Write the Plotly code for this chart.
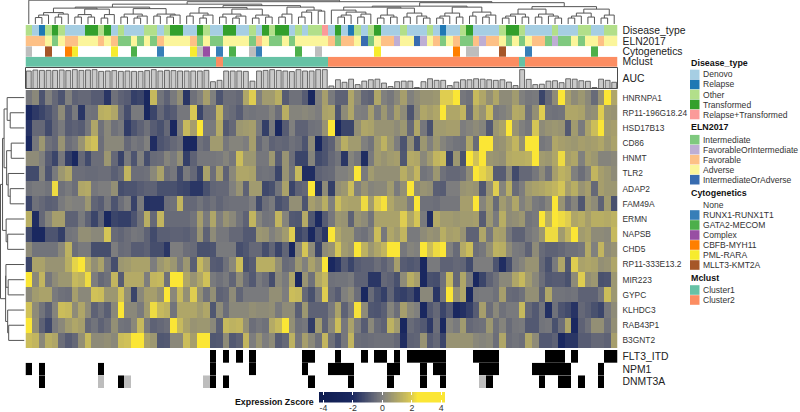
import plotly.graph_objects as go

W, H = 800, 412
genes = ["HNRNPA1", "RP11-196G18.24", "HSD17B13", "CD86", "HNMT", "TLR2", "ADAP2", "FAM49A", "ERMN",
         "NAPSB", "CHD5", "RP11-333E13.2", "MIR223", "GYPC", "KLHDC3", "RAB43P1", "B3GNT2"]

hnrnpa1 = [-.3,.2,-1.5,0,-.8,-1.5,0,-1,-.8,-.8,-1.2,-1.2,-2.5,-.5,-1,-1.2,-2.2,-2,-3.2,1.5,-.4,-1,-.2,.4,-2.5,-.5,0,.8,0,-1.5,-.6,-.6,-.8,1,2,0,.7,.7,1.2,-1.2,-.5,-.5,-1.2,-3.2,0,
           .8,-.2,-1,-1,1,.2,-.8,-1,1,0,-.3,.2,.8,0,.3,.5,.5,.6,2,2,2.6,-.3,-.5,1.5,1,.4,1,.3,.3,.7,0,-.3,-.2,-2,-.8,.3,2.5,.8,.3,.6,.2,-.7,.5,3.2,1]
rp11_196 = [-3,-2.4,-2,-1.5,-.8,.3,-1.2,-.2,-2.5,-.4,-.5,1.2,1.3,1,-.5,-1.7,-.2,-.2,-3.2,-2,-.8,-1.5,-1.2,-.3,-.3,1.9,-2,-.6,-.5,1.4,-.5,-.7,-1.2,-.3,-.4,-.3,-.3,.1,-.6,1.2,.1,.1,.2,.1,-.1,
            .9,1,-1.5,.3,1,0,-.1,.8,-.2,.6,-.1,.8,.3,-1.5,.2,1,.8,1,3,1,1,1.4,-.8,1,.5,1.6,-.2,0,.2,1.1,1,-.5,.4,2,-.4,-.5,-.4,1,1,.9,.3,.4,2,.6,.5]
hsd17b13 = [-2.6,-.8,-.8,-1.8,-.8,-.2,-1.2,-1,-1.2,-.3,1,-.5,.2,-.5,-.2,-2.3,-1.5,-1,-.5,-1.2,-1.6,-.8,-3,-.2,1.5,.8,3,-.2,-.2,1.1,-1.3,-.8,.6,.7,.8,-.2,-2.2,-.2,-3,-1.2,0,-1,-1,-.5,-.4,
            .5,2.8,-3.2,-2,-2,.4,1,.9,.5,.5,.5,.3,.6,-.8,1,-.3,-1.6,.7,.7,.8,.8,-.1,.1,.3,.1,-1.3,.6,.9,2.6,.5,0,-.3,1.8,.3,.5,.6,.5,-1.3,.7,-.2,.9,1.6,2.9,.7,.8]
cd86 = [-3,-.3,.6,-.5,-.8,.5,-.6,-.3,.5,1.4,1.7,-.6,.2,.2,.2,-.8,-.3,-.5,0,-2.8,-1.5,-1.2,-.8,-.5,-3,-3,-.5,-.8,.7,.7,-.3,.1,.1,-.1,.8,-.8,-.2,-1,-.8,-.9,-.5,-.7,-1.5,.3,-3.2,
        -1.5,-1,.3,1.2,.7,.7,0,-.4,.7,1.3,.6,-.1,-1.5,.4,-1.6,.6,0,.6,.1,-.2,-.4,-.5,1,-.7,2.8,2.8,.4,.5,.9,1.4,.4,2.6,2.8,-.3,-.1,1,.8,.7,.6,.8,.7,.8,1,.6,.9]
hnmt = [.3,.3,0,-1.2,-2,-.3,-2.2,-3,-.8,-1.8,-.6,-.6,.6,-.8,-2.1,-.2,-1.5,0,-1.7,-.7,-.6,.1,-.2,.4,-2.2,-1,-.3,-.3,-.3,-.2,.1,-.3,1.6,.6,.6,-.3,-.3,.6,-1.2,.5,-.6,-2,-2,.1,-1.8,
        -1.5,-.8,-.4,-2.5,.1,-.3,-2.8,-.2,.7,.5,.7,.8,-1.4,1.1,1,.2,.7,1.4,1.6,-2,.6,-1.6,2.6,1.7,2.5,.6,.5,.4,1.1,1.2,1.2,1.3,2.7,.7,.6,1,2.2,.8,1,0,.8,.6,.1,.1,.2]
tlr2 = [-1.8,-1.8,.1,-1.5,-.2,.6,1,-.6,-.6,-.7,-.7,-.6,-.6,-1.1,-.7,1.4,-.6,-.6,-.5,.2,.9,-.6,-.3,-1.8,-.2,-.8,-2,.9,-.6,.8,-1,.2,1,1,.9,-.5,-.4,-.5,-2,.5,-.5,1.5,-2.8,-2.8,-1,
        -.8,-.7,0,0,.2,2.8,-.2,.7,.4,.4,.4,.4,1.2,.7,1.4,-.4,-.2,.6,-.5,-.8,-.8,-.6,.3,2.8,2.1,1.7,-1.2,-1.2,.2,-1.8,-.8,-.8,-.3,.3,-.5,.8,1.3,1.1,0,-.6,0,1.4,.8,.6,.3]
adap2 = [-.4,-.2,-.2,-.4,2.2,-.5,-.2,-.6,1,1.1,-.3,-.1,-.1,.4,-1.7,-1.5,-1.5,-1.2,-1,-1,-1.6,-1.6,-1.6,-1.9,-2,-2.5,-2.5,-1.6,-.9,-.8,-.8,0,.5,-1,.7,.7,-1.9,-1.6,-.4,.9,-2,-1,-.8,3,-2.5,
         .3,-2.2,.4,.6,1.6,0,.5,.1,.2,.2,.7,-.2,.4,2.8,.3,.5,.4,-1.1,-1.2,-.1,-.1,.5,.6,.5,-1.4,.4,2,.1,1.2,-.7,-.1,.7,.9,1,1.2,1.4,1.8,.8,1.2,.5,.8,-.8,.8,.6,.6]
fam49a = [-2,-.5,-.8,-1.1,-1,-.2,.1,0,0,.6,-.9,-1.2,-.3,-1.5,-.6,-.1,-2.1,-.2,-2.7,-2.6,-2.6,-.6,-.5,1.4,-.8,-.8,-.4,-.8,-.5,-.9,-.6,-.5,-.5,-.5,-.1,-1.8,-.6,-.2,-1.6,-1.2,.4,.4,-1.5,.8,.5,
          1.2,0,1.6,1,.9,.9,2.2,.7,2,2.3,1,.6,.6,-.1,2.8,-.5,-.5,-.6,-.3,-.3,-.3,.8,.8,2.4,.1,.7,-.7,.7,.3,1,0,.4,-.2,-.4,.1,2.4,.5,-.6,.1,-1.4,.6,.3,-1,.7,-1.6]
ermn = [1.2,-2.8,-.8,.1,.8,.8,-1,-1,-.2,-1,-2,-.9,-3,-2,-2.2,-2.2,-1.5,-.5,1.2,-.8,1.4,-.7,-.7,-.7,-.7,-.4,.8,-.2,1,-.1,.5,.2,-.4,-1,1.4,.1,-.4,-.3,1.4,.1,-1.3,-1.4,1.1,-1.4,-2.9,
        -1.2,-.3,.6,.5,-1,.5,.3,-.4,.9,.9,.9,.9,2,1,1.8,-.2,-2.8,1.1,.7,.7,.6,.7,.7,.8,-1.2,.6,-.2,1.2,.3,.4,.6,-.4,-.2,2.4,1.2,2.7,2.2,2,1,1.2,.8,1.2,1.2,1.1,1.3]
napsb = [-1.8,-3,-3,-1.5,-1.5,-2.2,-.4,-.3,.4,.4,.2,.2,1.8,-.7,-.9,-.6,-.3,-.4,-1,-1.8,-1.1,-1.1,-1,-1,-1.1,-.8,.5,-1,.3,-.3,-.3,-.8,-.8,-1.3,-1.3,.6,.5,0,.3,.7,2,-2,-1.5,-3,-1.5,
         -2.5,2.8,1,.6,.6,-.3,-.5,0,1.6,-.3,1,.7,1.4,-.2,-.2,.3,.5,.4,1.2,.8,.9,.5,-1,-1,1,-.3,.9,.8,-.3,-1,-1,-.3,0,.6,2.2,2.2,.7,1.4,2.6,.7,.9,.3,.3,.2,1.5]
chd5 = [.3,-.4,-.4,-.4,-.4,.2,1.3,-.6,-.2,-.2,-1.7,-1.7,-1.7,-.1,-.7,-.6,-1.2,-1.2,-1,-1.7,-1.7,-2.5,-.1,-.1,-.6,-.7,-1.6,-1.6,-1.5,-.2,-.2,-.2,-1.7,-1.4,-.8,-.8,-1.7,-.9,-2,-.9,-3,.2,1.8,.3,-2,
        .3,.5,1.8,.7,.5,2.9,1.3,.6,1,1.4,2.9,2.9,-.3,.1,0,2.5,1.6,2.2,2.9,0,-.7,1.1,1.6,-.6,-.3,.4,1.3,1.2,.3,-.2,-.3,-1,.3,-.7,-1,-1,-.8,-.5,-.5,-.3,1.1,0,1.4,.3,.5]
rp11_333 = [-2,.9,.9,.5,.5,.5,1.2,2.1,2.4,1.1,.4,.9,-.3,-1.7,.6,.7,.9,.9,.9,-.1,.6,.9,.6,-.2,.6,-1.1,1.5,.8,-1.2,-1.3,-.5,.2,1.6,-1.6,-1.2,1.2,1.2,1.2,.4,-.7,-.5,.6,0,.9,.4,
            3,-3,-2.5,-1.2,-2,-1.2,-1,-1,-.6,-1,-.5,.8,-1.2,-1.4,-1.2,-3,-.2,-.2,-1,-1,-.8,-.9,-1.8,-.1,-.1,-.1,-1.5,-2.8,-1.7,-.2,.1,.5,.5,-.8,-1.6,-.2,1,-1.4,2,.9,1,.9,.4,.5,1]
mir223 = [2.4,.2,1.4,-.3,.3,.6,.6,1.5,1.3,2.2,-.1,-.8,-.5,1.4,-1.2,1.1,1.1,1.1,-.1,1.4,1.5,-.5,2.8,2.9,1,.5,1,1.7,-.2,-.5,-.2,-.9,.3,-.7,-1.3,-.2,-.6,-1.7,.2,-.2,1,-3,.5,-.5,1,
          1.5,-.5,-.4,-.4,-.2,-1,-1,-2.5,-2.5,-.8,-1,-1.6,.3,1.2,.8,-3,-1.6,-1.7,-.5,1.5,-.8,1,-.2,-3,-2,-1,-.5,.2,.2,1,1.5,.7,.2,-.6,-1.3,-1.2,-1.2,-1.6,.3,2,.4,.6,-1.6,-1.5,.6]
gypc = [.2,.7,.9,.9,-.2,-.5,-.6,.8,.2,.2,1.7,1.6,.6,.6,1.7,.4,-2,.2,.8,.8,.4,2.8,.2,1.5,.4,2,.4,-.5,.4,-1,-.8,.3,-.9,-.2,-.2,-.2,-.2,.4,.4,-.1,1.6,1.5,-.8,-1.6,-.3,
        2,-.7,-1.2,0,.3,-.6,-3,-.7,-1.6,-2.2,-.9,-2,-2.2,-1.8,-2.8,.2,.2,-2.5,-.4,2.8,.4,1,-3,-.3,-.2,-.2,-.5,.8,-.7,-.8,-.5,.4,.4,-1,1,-.4,-.4,-.5,-.4,-1,-1,-1,-.3,1.6,.6]
klhdc3 = [1.7,.3,-.4,-1.1,.1,1.6,1.5,.3,1,.3,-1,-.5,-1.1,.2,2.6,.2,.2,-.2,.7,2.2,1.5,1.3,-.4,1,1,1,.7,1,-1.4,.3,-.6,.2,.2,.2,.4,.3,.3,.4,-.2,.3,.3,-1.1,.6,-1,-1,
          -1,-.2,.9,-1,-.1,2.3,.3,-1.4,-1.5,-1.1,.1,-.6,.8,.2,0,-3,-1.3,-.8,-2,-1.2,-3,-2.7,-2.2,-1.2,.8,-.6,.2,-.5,-.2,-.2,1.5,-.8,-1.3,-.4,-2.7,-.5,-1.5,-1.8,-2.6,-.8,-1.1,-1.6,-2,-.3,.3]
rab43p1 = [2.9,.4,-1,-1.9,-.2,.2,.7,1,.8,-.8,-.4,-1,-.6,.4,-.4,-.5,.2,1.5,-.2,-1,-.8,-.6,2.6,1.5,.9,.5,.6,.6,.2,-1.1,1.5,1.3,1.4,.4,-.6,-.3,-.5,1.1,1.5,2.4,.4,-.5,-.3,-2.3,.7,
           -1,.2,1.6,-.3,.9,-.1,-1.2,.2,-.7,-1,1.3,.7,-3.2,-.7,-1,-1.3,-2.4,-.6,-3,.1,-.2,.7,-.8,-.6,-.5,.6,-.5,.1,-.7,-.3,-.2,-1.3,-1.3,-.4,-.3,-1.6,-.6,1,-3,-1,-.5,.4,.4,-.5,.4]
b3gnt2 = [1.6,1.4,.2,1.2,1,-.6,-1.2,-.8,.4,1.5,.3,.3,.4,.2,1.6,1.7,2.9,2.8,.9,.6,-1.4,-1.3,.2,.2,1.6,.8,2.4,2.9,-1.4,-1.3,.3,-1.3,-1,1.4,-.1,.5,-.1,.3,-1.2,-.8,1.3,-.3,.8,.2,-.5,
          1.4,-.5,-1.4,-.3,1.4,-.6,-.7,-.6,-.5,-.5,-.5,-.8,-2.8,-1,-.9,.5,-1.2,-.8,-2,.5,.5,.5,.5,.2,.1,.2,-.6,1,-.6,-.4,-.6,1,.3,-1.3,-1.3,-1,-3,-2.5,-2.5,-1.2,-1.2,-.8,-.8,-1,.8]
rows_read = [hnrnpa1, rp11_196, hsd17b13, cd86, hnmt, tlr2, adap2, fam49a, ermn, napsb, chd5, rp11_333, mir223, gypc, klhdc3, rab43p1, b3gnt2]
# negative side was read by shade on a -3 scale, the colorbar says that navy is about -2
zscore = [[val * .68 if val < 0 else val for val in row] for row in rows_read]

# sample annotations, one letter per column
disease = "ODROTODDDTTOTDODDDOODOTTDDTODDTTDDODTOTTDODOOPDTDRODOTDDDODDDODRDDOTDDDDOTTODDDDODDDOODDOO"
eln = "FFFAIAFFAAAFAFIIAIAIFAAAAFIAIIAAAAIFAIIAIAAAAAFIFFAVIAFFBAAVBAFIAFIIFBFFAIAIAFFIBIIAIAAFAA"
cyto = "XNNMNNOYNNNNNYNNGNNNUNNNNYXCNUNGNNXUNNNNNGNNXNNNNNNNNYNNNNNNNNNNNONXXNNNMNNNUNNNNNNNNNGNNN"
mclust = [1] * 29 + [2] + [1] * 16 + [2] * 29 + [1] + [2] * 14
auc = [.9,.95,.93,.93,.93,.95,.92,.97,.93,.95,.97,.88,.9,.92,.88,.9,.88,.88,.92,.97,.9,.93,.92,.9,.9,.9,.9,.93,.35,.42,.9,.9,.9,.88,.38,.9,.93,.97,.93,.9,.87,.97,.9,.9,.97,
       .97,.13,.45,.32,.48,.2,.38,.45,.48,.28,.1,.35,.38,.38,.05,.35,.5,.42,.42,.15,.33,.45,.45,.5,.48,.45,.42,.45,.33,.15,.97,.47,.2,.22,.38,.4,.3,.5,.48,.4,.37,.05,.48,.42,.32]

# mutation calls: columns with black / with grey (no call)
mut_names = ["FLT3_ITD", "NPM1", "DNMT3A"]
flt3_black = [28,30,32,34,42,43,47,51,53,54,56,58,59,60,61,62,63,68,69,70,71,79,80,81,83,88,89]
npm1_black = [0,2,11,28,34,42,46,47,48,49,55,56,60,62,63,69,70,71,77,78,79,80,81,82,87]
dnmt3a_black = [2,14,28,30,43,49,55,60,63,70,78,81,82,84,87]
npm1_grey = []
dnmt3a_grey = [11,15,27,69]

disease_names = ["Denovo", "Relapse", "Other", "Transformed", "Relapse+Transformed"]
disease_codes = "DROTP"
disease_cols = ["#a6cee3", "#1f78b4", "#b2df8a", "#33a02c", "#fb9a99"]
eln_names = ["Intermediate", "FavorableOrIntermediate", "Favorable", "Adverse", "IntermediateOrAdverse"]
eln_codes = "IBFAV"
eln_cols = ["#7fc97f", "#beaed4", "#fdc086", "#fbf59b", "#386cb0"]
cyto_names = ["None", "RUNX1-RUNX1T1", "GATA2-MECOM", "Complex", "CBFB-MYH11", "PML-RARA", "MLLT3-KMT2A"]
cyto_codes = "NUGCOYMX"
cyto_cols = ["#ffffff", "#377eb8", "#4daf4a", "#984ea3", "#ff7f00", "#f7ec2e", "#a65628", "#bdbdbd"]
mclust_names = ["Cluster1", "Cluster2"]
mclust_cols = ["#66c2a5", "#fc8d62"]

zmin, zmax = -4.3, 4.25
zscale = [[0, "#0e1c50"], [.267, "#1a2860"], [.5, "#7f7f7f"], [.733, "#dccb52"], [.78, "#fbe635"], [1, "#fbe635"]]
ticks_z = [-4, -2, 0, 2, 4]
tick_labels_z = ["-4", "-2", "0", "2", "4"]

# dendrograms as nested (height, left, right), L is a leaf
L = None
a = (11.5, (9, (6.5, L, L), L), (10, (7, L, L), L))
b = (9.5, (7, L, L), (7, L, L))
c = (9.5, (6, L, L), L)
d = (10, (7, L, L), (8, (6, L, L), L))
e = (10, (8, L, L), (9, (7, L, L), L))
f = (11, (8, L, L), (9, (6, L, L), L))
g = (10, (7, L, L), (8, (6, L, L), L))
h = (9, (6, L, L), (7, L, L))
i = (10, (7, L, L), L)
j = (12, (7, L, L), L)
k = (13, L, L)
p = (14, L, (12, (9, (7, L, L), L), (10, (7, L, L), L)))
q = (9, (6, L, L), (7, L, L))
r = (11, (7, L, L), (8, L, (6, L, L)))
s = (11, (8, (6, L, L), L), (7, L, L))
t = (12, (8, L, L), (9, (7, L, L), L))
u = (10, (8, (6, L, L), L), (7, L, L))
v = (10, (7, L, L), (8, L, (6, L, L)))
w = (11, (8, (6, L, L), L), (7, L, L))
x = (9, (6, L, L), L)
left_tree = (20, (17, (16, a, (15, b, c)), (15.5, d, e)), (18.5, (16.5, f, (15, g, h)), (17, i, (14, j, k))))
right_tree = (21.5, (18, (17, p, (16, q, r)), (17, s, t)), (17.5, (15, u, v), (15, w, x)))
col_tree = (24, L, (22.5, left_tree, right_tree))
row_tree = (23.5,
            (21.5, (20, (17, L, (14, L, L)), (17.5, (13, L, L), (16, L, (14, L, L)))), (18, L, (16.5, L, L))),
            (18.5, (18.2, L, (16, L, L)), (16.5, L, (15.5, L, L))))


def tree_lines(tree):
    xs, ys = [], []
    count = [0]

    def walk(node):
        if node is None:
            count[0] += 1
            return count[0] - 1, 0
        h0, n1, n2 = node
        p1, h1 = walk(n1)
        p2, h2 = walk(n2)
        xs.extend([p1, p1, p2, p2, None])
        ys.extend([h1, h0, h0, h2, None])
        return (p1 + p2) / 2, h0

    walk(tree)
    return xs, ys


def step_scale(cols):
    n = len(cols)
    out = []
    for idx, col in enumerate(cols):
        out += [[idx / n, col], [(idx + 1) / n, col]]
    return out


def dom(top, bottom):
    return [1 - bottom / H, 1 - top / H]


X0, X1 = 25.5, 617.5
xcols = list(range(90))
fig = go.Figure()

# main heatmap
fig.add_trace(go.Heatmap(z=zscore, x=xcols, y=list(range(17)), zmin=zmin, zmax=zmax, colorscale=zscale, showscale=False, xaxis="x", yaxis="y"))

# colour key as its own small heatmap, plotly's colorbar pushes the margins when it sits this low
key_vals = [zmin + n * (zmax - zmin) / 170 for n in range(171)]
fig.add_trace(go.Heatmap(z=[key_vals], x=key_vals, y=[0], zmin=zmin, zmax=zmax, colorscale=zscale, showscale=False, xaxis="x3", yaxis="y11"))


def add_band(codes, order, cols, axis):
    z = [[order.index(ch) for ch in codes]]
    fig.add_trace(go.Heatmap(z=z, x=xcols, y=[0], zmin=-.5, zmax=len(cols) - .5, colorscale=step_scale(cols), showscale=False,
                             xaxis="x", yaxis=axis))


add_band(disease, disease_codes, disease_cols, "y2")
add_band(eln, eln_codes, eln_cols, "y3")
add_band(cyto, cyto_codes, cyto_cols, "y4")
add_band(mclust, [1, 2], mclust_cols, "y5")

fig.add_trace(go.Bar(x=xcols, y=auc, width=.74, marker=dict(color="#c9c9c9", line=dict(color="#4a4a4a", width=.8)), xaxis="x", yaxis="y6"))

for name, black, grey, axis in zip(mut_names, [flt3_black, npm1_black, dnmt3a_black], [[], npm1_grey, dnmt3a_grey], ["y7", "y8", "y9"]):
    z = [[2 if n in black else 1 if n in grey else 0 for n in xcols]]
    fig.add_trace(go.Heatmap(z=z, x=xcols, y=[0], zmin=-.5, zmax=2.5, colorscale=step_scale(["#ffffff", "#bdbdbd", "#000000"]),
                             showscale=False, xaxis="x", yaxis=axis))

xs, ys = tree_lines(col_tree)
fig.add_trace(go.Scatter(x=xs, y=ys, mode="lines", line=dict(color="#555555", width=1), xaxis="x", yaxis="y10"))
xs, ys = tree_lines(row_tree)
fig.add_trace(go.Scatter(x=ys, y=xs, mode="lines", line=dict(color="#555555", width=1), xaxis="x2", yaxis="y"))


def band_axis(top, bottom, label, rng=None):
    return dict(domain=dom(top, bottom), anchor="x", side="right", range=rng or [-.5, .5], tickmode="array",
                tickvals=[(rng[1] / 2) if rng else 0], ticktext=[label], ticks="", showgrid=False, zeroline=False, showline=False,
                ticklabelstandoff=4, tickfont=dict(size=10.4, color="#222222"))


fig.update_layout(
    width=W, height=H, margin=dict(l=0, r=0, t=0, b=0, autoexpand=False), paper_bgcolor="white", plot_bgcolor="white", showlegend=False,
    font=dict(family="Liberation Sans"),
    xaxis=dict(domain=[X0 / W, X1 / W], range=[-.5, 89.5], visible=False, anchor="y"),
    xaxis2=dict(domain=[0, 24.5 / W], range=[24, 0], visible=False, anchor="y"),
    xaxis3=dict(domain=[319 / W, 445 / W], range=[zmin, zmax], anchor="y11", side="bottom", tickmode="array", tickvals=ticks_z,
                ticktext=tick_labels_z, ticks="inside", ticklen=2.5, tickcolor="white", tickwidth=1, showline=True, linewidth=0,
                mirror="ticks", showgrid=False, zeroline=False, automargin=False, ticklabelstandoff=-3,
                tickfont=dict(size=8.8, color="#333333")),
    yaxis=dict(domain=dom(90, 348), range=[16.5, -.5], side="right", anchor="x", tickmode="array", tickvals=list(range(17)),
               ticktext=genes, ticks="", showgrid=False, zeroline=False, ticklabelstandoff=4, tickfont=dict(size=8.4, color="#333333")),
    yaxis2=band_axis(25, 35.7, "Disease_type"),
    yaxis3=band_axis(35.7, 46.2, "ELN2017"),
    yaxis4=band_axis(46.2, 56.7, "Cytogenetics"),
    yaxis5=band_axis(56.7, 67, "Mclust"),
    yaxis6=band_axis(67.5, 88.5, "AUC", [0, 1.08]),
    yaxis7=band_axis(350, 362.7, "FLT3_ITD"),
    yaxis8=band_axis(362.7, 375.3, "NPM1"),
    yaxis9=band_axis(375.3, 388, "DNMT3A"),
    yaxis10=dict(domain=dom(0, 24), range=[0, 24.2], visible=False, anchor="x"),
    yaxis11=dict(domain=dom(392, 402.5), range=[-.5, .5], visible=False, anchor="x3"),
)

# frame round the AUC bars
fig.add_shape(type="rect", xref="x domain", yref="y6 domain", x0=0, x1=1, y0=0, y1=1, line=dict(color="#4a4a4a", width=1))


def legend_block(title, title_y, names, cols, first_y):
    fig.add_annotation(text="<b>%s</b>" % title, xref="paper", yref="paper", x=690 / W, y=1 - title_y / H, xanchor="left", yanchor="middle",
                       xshift=-1, showarrow=False, font=dict(size=8.9, color="#111111"))
    for n, (name, col) in enumerate(zip(names, cols)):
        yc = first_y + n * 10
        fig.add_shape(type="rect", xref="paper", yref="paper", x0=690 / W, x1=699.5 / W, y0=1 - (yc - 4.8) / H, y1=1 - (yc + 4.8) / H,
                      fillcolor=col, line=dict(width=0))
        fig.add_annotation(text=name, xref="paper", yref="paper", x=701 / W, y=1 - yc / H, xanchor="left", yanchor="middle",
                           showarrow=False, font=dict(size=8.55, color="#333333"))


legend_block("Disease_type", 62.7, disease_names, disease_cols, 74.5)
legend_block("ELN2017", 127.3, eln_names, eln_cols, 139.7)
legend_block("Cytogenetics", 193, cyto_names, cyto_cols, 205)
legend_block("Mclust", 278, mclust_names, mclust_cols, 290)

fig.add_annotation(text="<b>Expression Zscore</b>", xref="paper", yref="paper", x=316 / W, y=1 - 402 / H, xanchor="right", yanchor="middle",
                   showarrow=False, font=dict(size=8.8, color="#111111"))

fig.write_html("out.html", config={"displayModeBar": False}, post_script="document.body.style.margin='0';")
